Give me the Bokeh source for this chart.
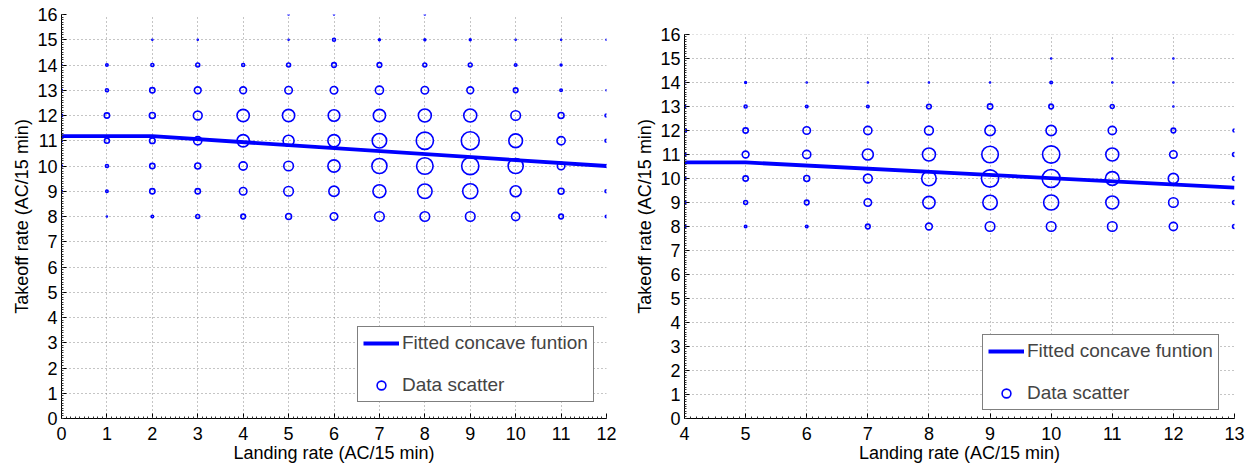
import numpy as np
from bokeh.embed import file_html
from bokeh.layouts import row
from bokeh.models import (BoxAnnotation, ColumnDataSource, Legend, LegendItem, Range1d,
                          SingleIntervalTicker, Spacer)
from bokeh.plotting import figure
from bokeh.resources import INLINE

# left panel: landing rate 0..12, takeoff rate 8..16, counts per takeoff row
LEFT_LANDING = list(range(0, 13))
LEFT_TAKEOFF = list(range(8, 17))
LEFT_COUNTS = [
    [1, 1, 3, 6, 8, 12, 18, 28, 28, 28, 21, 8, 3],
    [2, 3, 10, 10, 18, 28, 32, 49, 60, 65, 36, 12, 4],
    [2, 4, 10, 12, 21, 28, 44, 65, 77, 83, 65, 18, 4],
    [2, 9, 11, 21, 44, 36, 44, 60, 83, 90, 54, 21, 4],
    [3, 10, 12, 24, 44, 44, 40, 44, 49, 49, 28, 12, 4],
    [2, 4, 10, 15, 15, 18, 18, 21, 18, 15, 8, 3, 1],
    [1, 3, 4, 6, 4, 6, 8, 8, 6, 6, 3, 2, 0],
    [0, 0, 1, 1, 0, 1, 4, 2, 2, 2, 1, 1, 1],
    [0, 0, 0, 0, 0, 1, 1, 0, 1, 0, 0, 0, 0],
]
LEFT_FIT_X = [0, 2, 12]
LEFT_FIT_Y = [11.18, 11.18, 10.0]

# right panel: landing rate 4..13
RIGHT_LANDING = list(range(4, 14))
RIGHT_TAKEOFF = list(range(8, 17))
RIGHT_COUNTS = [
    [4, 3, 3, 8, 15, 28, 28, 28, 21, 6],
    [4, 6, 8, 18, 44, 60, 65, 49, 28, 6],
    [4, 10, 12, 24, 60, 83, 90, 54, 32, 6],
    [4, 15, 21, 36, 49, 77, 83, 49, 18, 6],
    [6, 10, 18, 21, 24, 32, 32, 21, 8, 4],
    [3, 4, 3, 3, 8, 10, 8, 6, 1, 0],
    [1, 2, 1, 1, 1, 1, 3, 1, 1, 0],
    [0, 0, 0, 0, 0, 0, 1, 1, 1, 0],
    [0, 0, 0, 0, 0, 0, 0, 0, 0, 0],
]
RIGHT_FIT_X = [4, 5, 13]
RIGHT_FIT_Y = [10.67, 10.67, 9.62]

FONT = "Liberation Sans"
BLUE = "#0000ff"
Y_MAX = 16


def panel(landing, takeoff, counts, fit_x, fit_y, xr, y_top, fw, border_left, legend_loc):
    xs, ys, ns = [], [], []
    for j, t in enumerate(takeoff):
        for i, l in enumerate(landing):
            if counts[j][i] > 0:
                xs.append(l)
                ys.append(t)
                ns.append(counts[j][i])
    sizes = np.maximum(2.0 * np.sqrt(ns) - 1.0, 0.8)
    src = ColumnDataSource(data=dict(x=xs, y=ys, size=sizes))

    p = figure(x_range=Range1d(*xr), y_range=Range1d(0, y_top),
               frame_width=fw, frame_height=404,
               min_border_left=border_left, min_border_right=12,
               min_border_top=14, min_border_bottom=50,
               output_backend="svg", toolbar_location=None)
    p.outline_line_color = None

    for g in (p.xgrid, p.ygrid):
        g.grid_line_color = "#8a8a8a"
        g.grid_line_dash = "1 3"
        g.grid_line_width = 1
    if y_top > Y_MAX:
        # nothing is drawn above the top tick
        p.add_layout(BoxAnnotation(bottom=Y_MAX, fill_color="white", fill_alpha=1,
                                   line_color=None, level="underlay"))

    sc = p.scatter("x", "y", size="size", source=src, marker="circle",
                   fill_color=None, line_color=BLUE, line_width=1.6)
    ln = p.line(fit_x, fit_y, line_color=BLUE, line_width=3.8)

    for ax in (p.xaxis, p.yaxis):
        ax.ticker = SingleIntervalTicker(interval=1, num_minor_ticks=10)
        ax.major_tick_in = 5
        ax.major_tick_out = 0
        ax.minor_tick_in = 2
        ax.minor_tick_out = 0
        ax.axis_line_color = "black"
        ax.major_tick_line_color = "black"
        ax.minor_tick_line_color = "#333333"
        ax.major_label_text_font = FONT
        ax.major_label_text_font_size = "18px"
        ax.major_label_text_color = "black"
        ax.axis_label_text_font = FONT
        ax.axis_label_text_font_size = "18px"
        ax.axis_label_text_font_style = "normal"
        ax.axis_label_text_color = "black"
    p.yaxis.bounds = (0, Y_MAX)
    p.xaxis.axis_label = "Landing rate (AC/15 min)"
    p.yaxis.axis_label = "Takeoff rate (AC/15 min)"
    p.xaxis.major_label_standoff = 8
    p.yaxis.major_label_standoff = 4
    p.xaxis.axis_label_standoff = 0
    p.yaxis.axis_label_standoff = 2

    legend = Legend(items=[LegendItem(label="Fitted concave funtion", renderers=[ln]),
                           LegendItem(label="Data scatter", renderers=[sc])],
                    location=legend_loc)
    legend.border_line_color = "black"
    legend.border_line_width = 1
    legend.background_fill_alpha = 1
    legend.padding = 5
    legend.spacing = 20
    legend.margin = 0
    legend.glyph_width = 36
    legend.glyph_height = 22
    legend.label_height = 22
    legend.label_standoff = 3
    legend.label_text_font = FONT
    legend.label_text_font_size = "19px"
    p.add_layout(legend)
    return p


left = panel(LEFT_LANDING, LEFT_TAKEOFF, LEFT_COUNTS, LEFT_FIT_X, LEFT_FIT_Y,
             (0, 12), 16, 545, 61, (296, 16))
# right panel's axes sit 20px lower at the top than the left one
right = panel(RIGHT_LANDING, RIGHT_TAKEOFF, RIGHT_COUNTS, RIGHT_FIT_X, RIGHT_FIT_Y,
              (4, 13), 16 + 20 / 24.0, 550, 53, (298, 8))

layout = row(left, Spacer(width=13), right)
open("out.html", "w").write(file_html(layout, INLINE))
